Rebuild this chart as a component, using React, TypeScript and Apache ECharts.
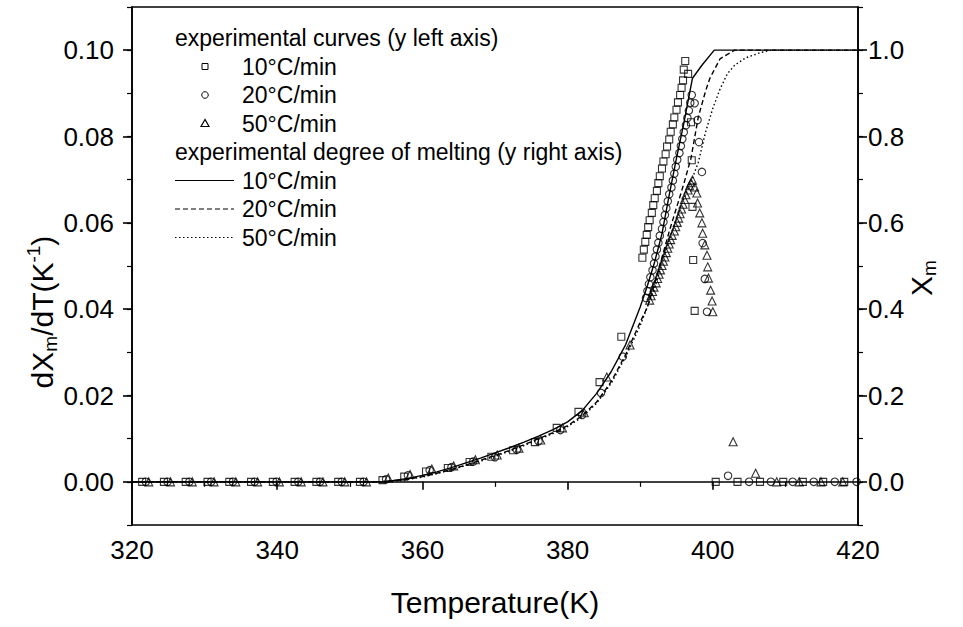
import React, { useEffect, useRef } from 'react';
import * as echarts from 'echarts';

const FONT = '"Liberation Sans", Arial, sans-serif';

const xTicksRange = [320, 420];
const leftTicks = [0, 0.02, 0.04, 0.06, 0.08, 0.1];
const rightTicks = [0, 0.2, 0.4, 0.6, 0.8, 1.0];
const legendRates = ['10°C/min', '20°C/min', '50°C/min'];
const header1 = 'experimental curves (y left axis)';
const header2 = 'experimental degree of melting (y right axis)';

// experimental dXm/dT, 10°C/min (squares) [T, value]
const sq10: [number, number][] = [
  [321.4, 0], [324.4, 0], [327.4, 0], [330.4, 0], [333.4, 0], [336.4, 0], [339.4, 0], [342.4, 0],
  [345.4, 0], [348.4, 0], [351.4, 0], [354.5, 0.0004], [357.5, 0.0012], [360.5, 0.0024], [363.5, 0.0032],
  [366.5, 0.0046], [369.5, 0.0058], [372.5, 0.0073], [375.5, 0.0092], [378.5, 0.0125], [381.5, 0.0162],
  [384.4, 0.0231], [387.4, 0.0336],
  [390.3, 0.0519], [390.5, 0.0538], [390.7, 0.0556], [390.9, 0.0572], [391.1, 0.059], [391.3, 0.0606],
  [391.6, 0.0623], [391.8, 0.0641], [392.0, 0.0657], [392.3, 0.0674], [392.5, 0.0692], [392.7, 0.0708],
  [393.0, 0.0726], [393.2, 0.0742], [393.5, 0.0759], [393.7, 0.0777], [394.0, 0.0793], [394.2, 0.0811],
  [394.5, 0.0828], [394.7, 0.0844], [395.0, 0.0862], [395.2, 0.0879], [395.5, 0.0896], [395.7, 0.0913],
  [395.9, 0.093], [396.0, 0.0955], [396.2, 0.0975],
  [396.6, 0.0945], [397.0, 0.0833], [397.1, 0.0745], [397.2, 0.0637], [397.3, 0.0514], [397.5, 0.0396],
  [400.4, 0], [403.4, 0], [406.5, 0], [409.7, 0], [412.4, 0], [415.2, 0], [418.1, 0],
];

// experimental dXm/dT, 20°C/min (circles)
const ci20: [number, number][] = [
  [321.9, 0], [324.9, 0], [327.9, 0], [330.9, 0], [333.9, 0], [336.9, 0], [339.9, 0], [342.9, 0],
  [345.9, 0], [348.9, 0], [351.9, 0], [355.0, 0.0006], [358.0, 0.0015], [361.0, 0.0027], [364.0, 0.0034],
  [367.0, 0.0047], [370.0, 0.0057], [373.0, 0.0074], [376.0, 0.0094], [379.0, 0.012], [382.0, 0.0155],
  [384.6, 0.0206], [387.6, 0.029],
  [390.8, 0.0426], [391.0, 0.0442], [391.2, 0.0458], [391.4, 0.0474], [391.7, 0.049], [391.9, 0.0506],
  [392.1, 0.0522], [392.3, 0.0538], [392.5, 0.0554], [392.7, 0.057], [393.0, 0.0586], [393.2, 0.0602],
  [393.4, 0.0618], [393.6, 0.0634], [393.8, 0.065], [394.0, 0.0666], [394.3, 0.0682], [394.5, 0.0698],
  [394.7, 0.0714], [394.9, 0.073], [395.1, 0.0746], [395.4, 0.0762], [395.6, 0.0778], [395.8, 0.0794],
  [396.0, 0.081], [396.3, 0.0826], [396.5, 0.0843], [396.7, 0.086], [396.9, 0.0878], [397.1, 0.0896],
  [397.5, 0.0877], [397.9, 0.0838], [398.1, 0.0787], [398.5, 0.0718], [398.6, 0.0553], [398.9, 0.047],
  [399.2, 0.0394],
  [402.1, 0.0014], [405.0, 0], [408.0, 0], [411.0, 0], [413.9, 0], [416.8, 0], [419.8, 0],
];

// experimental dXm/dT, 50°C/min (triangles)
const tr50: [number, number][] = [
  [322.3, 0], [325.3, 0], [328.3, 0], [331.3, 0], [334.3, 0], [337.3, 0], [340.3, 0], [343.3, 0],
  [346.3, 0], [349.3, 0], [352.3, 0], [355.3, 0.0009], [358.3, 0.0017], [361.3, 0.003], [364.3, 0.0037],
  [367.3, 0.0051], [370.3, 0.0062], [373.3, 0.0078], [376.3, 0.0097], [379.3, 0.0125], [382.3, 0.016],
  [385.4, 0.0243], [388.6, 0.0317],
  [391.3, 0.0421], [391.5, 0.0431], [391.7, 0.0441], [391.9, 0.0451], [392.2, 0.0461], [392.4, 0.0471],
  [392.6, 0.0481], [392.8, 0.0491], [393.0, 0.0501], [393.2, 0.0511], [393.4, 0.0521], [393.6, 0.0531],
  [393.8, 0.0541], [394.0, 0.0551], [394.2, 0.0561], [394.4, 0.0571], [394.7, 0.0581], [394.9, 0.0591],
  [395.1, 0.0601], [395.3, 0.0611], [395.5, 0.0621], [395.7, 0.0632], [395.9, 0.0643], [396.1, 0.0654],
  [396.3, 0.0665], [396.6, 0.0676], [396.8, 0.0686], [397.0, 0.0693], [397.2, 0.0699],
  [397.5, 0.0683], [397.8, 0.0669], [397.9, 0.0646], [398.2, 0.0623], [398.5, 0.06], [398.6, 0.0576],
  [398.9, 0.0549], [399.2, 0.0525], [399.3, 0.0498], [399.4, 0.0472], [399.7, 0.0444], [399.9, 0.0419],
  [400.0, 0.0394],
  [402.8, 0.0093], [405.9, 0.002], [408.8, 0], [411.9, 0], [414.9, 0], [417.9, 0],
];

// experimental degree of melting Xm (right axis)
const xm10: [number, number][] = [
  [320, 0], [354, 0], [356, 0.003], [358, 0.008], [360, 0.015], [362, 0.023], [364, 0.033], [366, 0.044],
  [368, 0.055], [370, 0.067], [372, 0.079], [374, 0.092], [376, 0.106], [378, 0.121], [380, 0.139],
  [382, 0.165], [384, 0.205], [386, 0.255], [388, 0.318], [390, 0.405], [391, 0.455], [392, 0.51],
  [393, 0.575], [394, 0.665], [395, 0.75], [396, 0.83], [397.2, 0.935], [398.5, 0.965], [400.2, 1.0],
  [420, 1.0],
];
const xm20: [number, number][] = [
  [320, 0], [355, 0], [357, 0.004], [360, 0.012], [362, 0.02], [364, 0.029], [366, 0.039], [368, 0.05],
  [370, 0.061], [372, 0.073], [374, 0.086], [376, 0.1], [378, 0.114], [380, 0.13], [382, 0.153],
  [384, 0.185], [386, 0.232], [388, 0.295], [390, 0.37], [391, 0.405], [392, 0.46], [393, 0.52],
  [394, 0.58], [395, 0.635], [396, 0.69], [397, 0.75], [398, 0.845], [399, 0.905], [399.6, 0.935],
  [401, 0.98], [403, 1.0], [420, 1.0],
];
const xm50: [number, number][] = [
  [320, 0], [355, 0], [357, 0.003], [360, 0.011], [362, 0.019], [364, 0.028], [366, 0.038], [368, 0.048],
  [370, 0.059], [372, 0.071], [374, 0.084], [376, 0.098], [378, 0.112], [380, 0.128], [382, 0.15],
  [384, 0.182], [386, 0.228], [388, 0.29], [390, 0.362], [392, 0.45], [393, 0.505], [394, 0.56],
  [395, 0.61], [396, 0.655], [397, 0.695], [398, 0.74], [399, 0.81], [400, 0.865], [401, 0.91],
  [402, 0.945], [403, 0.965], [404.5, 0.982], [406.5, 0.994], [408, 1.0], [420, 1.0],
];

const W = 963;
const H = 627;
const G = { left: 132, right: 105, top: 7, bottom: 102 };

export default function App() {
  const ref = useRef<HTMLDivElement>(null);
  useEffect(() => {
    if (!ref.current) return;
    const chart = echarts.init(ref.current, undefined, { renderer: 'svg' });
    const black = '#000';
    const axisLine = { show: true, lineStyle: { color: black, width: 1.6 } };
    const labelStyle = { color: black, fontSize: 26, fontFamily: FONT };
    const hollow = { color: 'rgba(255,255,255,0)', borderColor: black, borderWidth: 1.1 };
    const legendFont = `23px ${FONT}`;
    const lx = 175;
    const tx = 242;
    const rowY = [38, 66.5, 95, 123.5, 152, 180.5, 209, 237.5];
    const lineTypes: any[] = ['solid', [5, 3], [1.5, 2.5]];

    const graphic: any[] = [
      { type: 'text', x: lx, y: rowY[0], style: { text: header1, font: legendFont, fill: black, verticalAlign: 'middle' } },
      { type: 'text', x: lx, y: rowY[4], style: { text: header2, font: legendFont, fill: black, verticalAlign: 'middle' } },
      { type: 'rect', shape: { x: 202, y: rowY[1] - 3, width: 6, height: 6 }, style: { fill: 'none', stroke: black, lineWidth: 1 } },
      { type: 'circle', shape: { cx: 205, cy: rowY[2], r: 3.3 }, style: { fill: 'none', stroke: black, lineWidth: 1 } },
      { type: 'polygon', shape: { points: [[205, rowY[3] - 4], [201, rowY[3] + 3], [209, rowY[3] + 3]] }, style: { fill: 'none', stroke: black, lineWidth: 1.2 } },
    ];
    legendRates.forEach((r, i) => {
      graphic.push({ type: 'text', x: tx, y: rowY[1 + i], style: { text: r, font: legendFont, fill: black, verticalAlign: 'middle' } });
      graphic.push({ type: 'text', x: tx, y: rowY[5 + i], style: { text: r, font: legendFont, fill: black, verticalAlign: 'middle' } });
      graphic.push({
        type: 'line',
        shape: { x1: lx, y1: rowY[5 + i], x2: 234, y2: rowY[5 + i] },
        style: { stroke: black, lineWidth: 1.2, lineDash: i === 0 ? null : lineTypes[i] },
      });
    });
    // axis titles
    graphic.push({
      type: 'text', x: 42, y: 312, rotation: Math.PI / 2,
      style: {
        text: '{a|dX}{s|m}{a|/dT(K}{p|-1}{a|)}',
        align: 'center', verticalAlign: 'middle', fill: black,
        rich: {
          a: { fontSize: 30, fontFamily: FONT, lineHeight: 36, fill: black },
          s: { fontSize: 19, fontFamily: FONT, lineHeight: 18, verticalAlign: 'bottom', fill: black },
          p: { fontSize: 19, fontFamily: FONT, lineHeight: 18, verticalAlign: 'top', fill: black },
        },
      },
    });
    graphic.push({
      type: 'text', x: 921, y: 278, rotation: Math.PI / 2,
      style: {
        text: '{a|X}{s|m}',
        align: 'center', verticalAlign: 'middle', fill: black,
        rich: {
          a: { fontSize: 30, fontFamily: FONT, lineHeight: 36, fill: black },
          s: { fontSize: 19, fontFamily: FONT, lineHeight: 18, verticalAlign: 'bottom', fill: black },
        },
      },
    });

    chart.setOption({
      animation: false,
      backgroundColor: '#fff',
      grid: { ...G, show: true, borderColor: black, borderWidth: 1.6, containLabel: false },
      xAxis: [
        {
          type: 'value', min: xTicksRange[0], max: xTicksRange[1], interval: 20,
          axisLine, axisTick: { show: true, length: 8, lineStyle: { color: black, width: 1.6 } },
          minorTick: { show: true, splitNumber: 2, length: 5, lineStyle: { color: black, width: 1.2 } },
          axisLabel: { ...labelStyle, margin: 12 },
          splitLine: { show: false },
          name: 'Temperature(K)', nameLocation: 'middle', nameGap: 62,
          nameTextStyle: { color: black, fontSize: 30, fontFamily: FONT },
        },
      ],
      yAxis: [
        {
          type: 'value', position: 'left', min: -0.01, max: 0.11,
          axisLine, splitLine: { show: false },
          axisTick: { show: true, length: 9, customValues: leftTicks, lineStyle: { color: black, width: 1.6 } },
          axisLabel: { ...labelStyle, margin: 18, customValues: leftTicks, formatter: (v: number) => v.toFixed(2) },
        },
        {
          type: 'value', position: 'right', min: -0.1, max: 1.1,
          axisLine, splitLine: { show: false },
          axisTick: { show: true, length: 9, customValues: rightTicks, lineStyle: { color: black, width: 1.6 } },
          axisLabel: { ...labelStyle, margin: 10, customValues: rightTicks, formatter: (v: number) => v.toFixed(1) },
        },
        {
          type: 'value', position: 'left', min: -0.01, max: 0.11, interval: 0.01,
          axisLine: { show: false }, splitLine: { show: false }, axisLabel: { show: false },
          axisTick: { show: true, length: 5, lineStyle: { color: black, width: 1.2 } },
        },
        {
          type: 'value', position: 'right', min: -0.1, max: 1.1, interval: 0.1,
          axisLine: { show: false }, splitLine: { show: false }, axisLabel: { show: false },
          axisTick: { show: true, length: 5, lineStyle: { color: black, width: 1.2 } },
        },
      ],
      graphic,
      series: [
        { type: 'line', name: 'Xm 10', yAxisIndex: 1, data: xm10, symbol: 'none', lineStyle: { color: black, width: 1.4, type: 'solid' }, z: 2 },
        { type: 'line', name: 'Xm 20', yAxisIndex: 1, data: xm20, symbol: 'none', lineStyle: { color: black, width: 1.4, type: [5, 3] }, z: 2 },
        { type: 'line', name: 'Xm 50', yAxisIndex: 1, data: xm50, symbol: 'none', lineStyle: { color: black, width: 1.4, type: [1.5, 2.5] }, z: 2 },
        { type: 'scatter', name: 'dXm/dT 10', yAxisIndex: 0, data: sq10, symbol: 'rect', symbolSize: 7, itemStyle: hollow, z: 3 },
        { type: 'scatter', name: 'dXm/dT 20', yAxisIndex: 0, data: ci20, symbol: 'circle', symbolSize: 7.5, itemStyle: hollow, z: 3 },
        { type: 'scatter', name: 'dXm/dT 50', yAxisIndex: 0, data: tr50, symbol: 'triangle', symbolSize: 8, itemStyle: hollow, z: 3 },
      ],
    });
    return () => chart.dispose();
  }, []);
  return (
    <div
      ref={ref}
      style={{ position: 'absolute', left: 0, top: 0, width: W, height: H, background: '#fff' }}
    />
  );
}
